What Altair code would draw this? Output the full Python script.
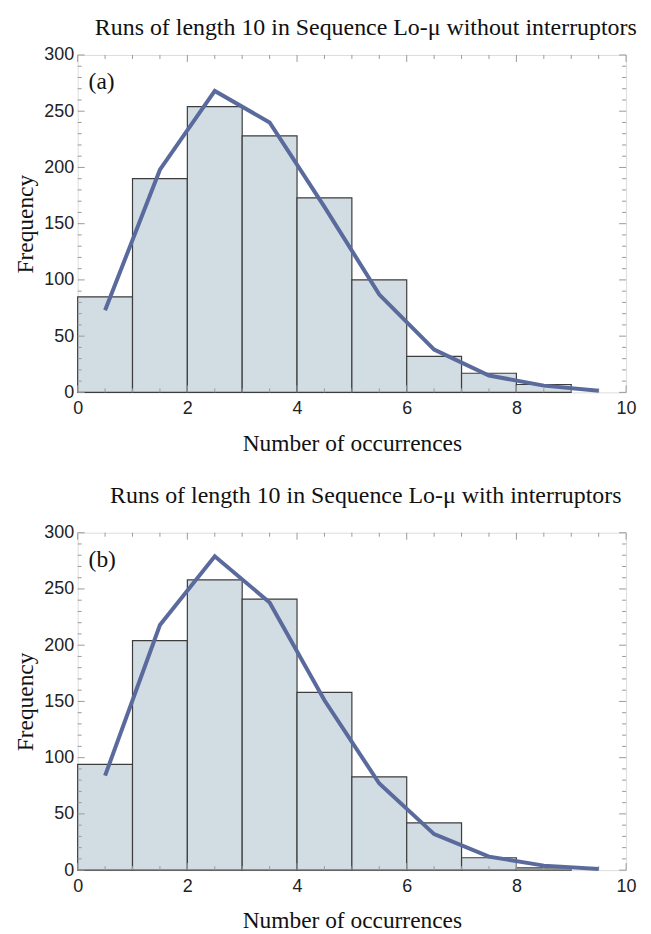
import altair as alt
import pandas as pd

# ---- data ----
bin_starts = [0, 1, 2, 3, 4, 5, 6, 7, 8]
bin_ends = [1, 2, 3, 4, 5, 6, 7, 8, 9]
counts_a = [85, 190, 254, 228, 173, 100, 32, 17, 7]
counts_b = [94, 204, 258, 241, 158, 83, 42, 11, 2]

fit_x = [0.5, 1.5, 2.5, 3.5, 4.5, 5.5, 6.5, 7.5, 8.5, 9.5]
fit_a = [73, 198, 268, 240, 165, 87, 38, 15, 6, 1.5]
fit_b = [84, 218, 279, 238, 151, 77, 32, 12, 4, 1]

titles = ["Runs of length 10 in Sequence Lo-\u03bc without interruptors",
          "Runs of length 10 in Sequence Lo-\u03bc with interruptors"]
panel_labels = ["(a)", "(b)"]

x_major = [0, 2, 4, 6, 8, 10]
x_minor = [v / 2 for v in range(0, 21) if v % 4 != 0]
y_major = [0, 50, 100, 150, 200, 250, 300]
y_minor = [v for v in range(0, 301, 10) if v % 50 != 0]

W, H = 551, 339
SERIF = "Liberation Serif"
SANS = "Liberation Sans"
TICK = "#9a9a9a"

xs = alt.Scale(domain=[0, 10], nice=False, zero=False)
ys = alt.Scale(domain=[0, 300], nice=False)

XAX = alt.Axis(
    values=x_major, title="Number of occurrences", labelFont=SANS,
    labelFontSize=18, labelColor="#222", ticks=False, domain=False,
    grid=False, labelPadding=7, titleFont=SERIF, titleFontSize=23.5,
    titleFontWeight="normal", titleColor="#111", titlePadding=14,
    labelFlush=False)
YAX = alt.Axis(
    values=y_major, title="Frequency", labelFont=SANS,
    labelFontSize=18, labelColor="#222", ticks=False, domain=False,
    grid=False, labelPadding=4, titleFont=SERIF, titleFontSize=23.5,
    titleFontWeight="normal", titleColor="#111", titlePadding=6,
    labelFlush=False)


def panel(counts, fit, title, label, title_offset):
    bars_df = pd.DataFrame({"start": bin_starts, "end": bin_ends, "count": counts})
    fit_df = pd.DataFrame({"x": fit_x, "y": fit})

    bars = alt.Chart(bars_df).mark_rect(
        fill="#d1dde3", stroke="#3d3d3d", strokeWidth=1.2
    ).encode(
        x=alt.X("start:Q", scale=xs, axis=XAX),
        x2="end:Q",
        y=alt.Y("count:Q", scale=ys, axis=YAX),
        y2=alt.datum(0),
    )

    line = alt.Chart(fit_df).mark_line(
        color="#5a6a9c", strokeWidth=4, strokeJoin="miter"
    ).encode(
        x=alt.X("x:Q", scale=xs, axis=XAX),
        y=alt.Y("y:Q", scale=ys, axis=YAX),
    )

    def xticks(vals, ln):
        df = pd.DataFrame({"v": vals})
        b = alt.Chart(df).mark_rule(color=TICK, strokeWidth=1).encode(
            x=alt.X("v:Q", scale=xs, axis=XAX),
            y=alt.value(H), y2=alt.value(H - ln))
        t = alt.Chart(df).mark_rule(color=TICK, strokeWidth=1).encode(
            x=alt.X("v:Q", scale=xs, axis=XAX),
            y=alt.value(0), y2=alt.value(ln))
        return [b, t]

    def yticks(vals, ln):
        df = pd.DataFrame({"v": vals})
        l = alt.Chart(df).mark_rule(color=TICK, strokeWidth=1).encode(
            y=alt.Y("v:Q", scale=ys, axis=YAX),
            x=alt.value(0), x2=alt.value(ln))
        r = alt.Chart(df).mark_rule(color=TICK, strokeWidth=1).encode(
            y=alt.Y("v:Q", scale=ys, axis=YAX),
            x=alt.value(W), x2=alt.value(W - ln))
        return [l, r]

    lab = alt.Chart(pd.DataFrame({"t": [label]})).mark_text(
        font=SERIF, fontSize=23.5, align="left", baseline="middle", color="#111"
    ).encode(text="t:N", x=alt.value(11), y=alt.value(27))

    layers = [bars] + xticks(x_minor, 4) + xticks(x_major, 7) + \
        yticks(y_minor, 4) + yticks(y_major, 7) + [line, lab]

    return alt.layer(*layers).properties(
        width=W, height=H,
        title=alt.TitleParams(title, font=SERIF, fontSize=24,
                              fontWeight="normal", color="#111",
                              anchor="middle", dx=14, offset=title_offset),
    )


chart = alt.vconcat(
    panel(counts_a, fit_a, titles[0], panel_labels[0], 6),
    panel(counts_b, fit_b, titles[1], panel_labels[1], 16),
    spacing=28,
).configure_view(stroke="#b0b0b0", strokeWidth=1).configure(
    background="white"
)

chart.save("out.html", embed_options={"renderer": "svg", "actions": False})
